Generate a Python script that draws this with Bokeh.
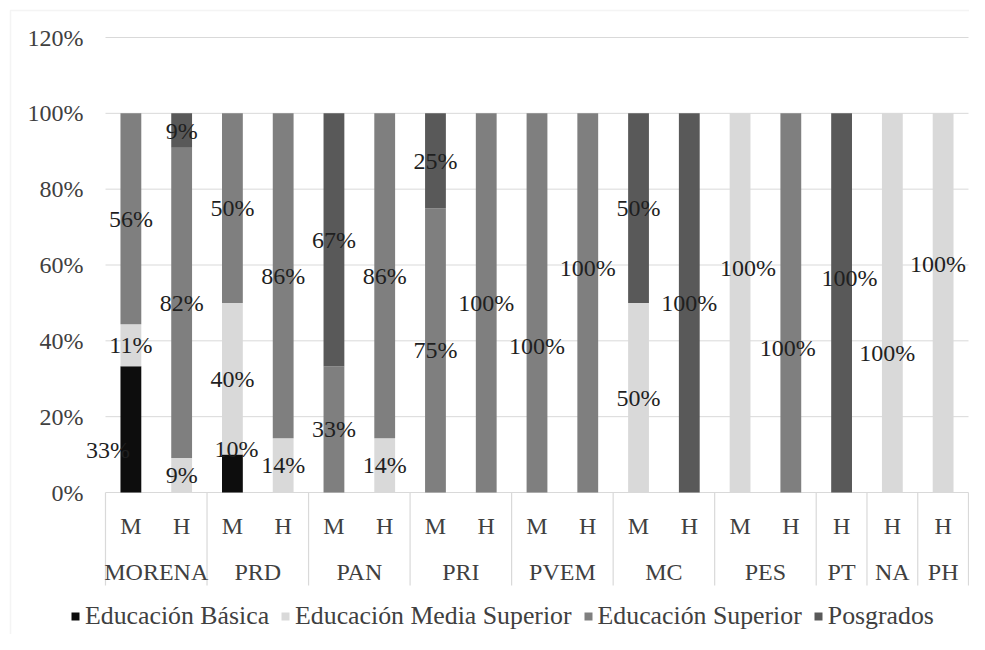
from bokeh.plotting import figure
from bokeh.models import (Range1d, FixedTicker, NumeralTickFormatter,
                          ColumnDataSource, Legend, LegendItem, BoxAnnotation)
from bokeh.core.properties import value
from bokeh.embed import file_html
from bokeh.resources import INLINE

# ---------------- data ----------------
parties = ["MORENA", "MORENA", "PRD", "PRD", "PAN", "PAN", "PRI", "PRI",
           "PVEM", "PVEM", "MC", "MC", "PES", "PES", "PT", "NA", "PH"]
sexes = ["M", "H", "M", "H", "M", "H", "M", "H",
         "M", "H", "M", "H", "M", "H", "H", "H", "H"]
series_names = ["Educación Básica", "Educación Media Superior",
                "Educación Superior", "Posgrados"]
basica = [33.3, 0, 10, 0, 0, 0, 0, 0, 0, 0, 0, 0, 0, 0, 0, 0, 0]
media = [11.1, 9.1, 40, 14.3, 0, 14.3, 0, 0, 0, 0, 50, 0, 100, 0, 0, 100, 100]
superior = [55.6, 81.8, 50, 85.7, 33.3, 85.7, 75, 100, 100, 100, 0, 0, 0, 100, 0, 0, 0]
posgrados = [0, 9.1, 0, 0, 66.7, 0, 25, 0, 0, 0, 50, 100, 0, 0, 100, 0, 0]
y_ticks = [0, 20, 40, 60, 80, 100, 120]

# ---------------- style ----------------
colors = ["#0d0d0d", "#d9d9d9", "#7f7f7f", "#595959"]
FONT = "Liberation Serif"
GRID = "#d9d9d9"
TXT = "#404040"
# pixel nudges for data labels placed away from segment centre: (series, bar) -> (dx, dy)
label_nudge = {(0, 0): (-23, 21), (0, 2): (4, -25), (2, 8): (0, 43), (2, 9): (0, -35),
               (1, 12): (8, -35), (2, 13): (-3, 45), (3, 14): (8, -25),
               (1, 15): (-5, 50), (1, 16): (-5, -39)}

W, H = 969, 634
PLOT_L, PLOT_R = 105, 968       # pixel extent of the category slots
PLOT_T, PLOT_B = 37, 492        # pixel position of 120% and 0%
n = len(parties)
slot = (PLOT_R - PLOT_L) / n
ymax = max(y_ticks) / 100
ppu = (PLOT_B - PLOT_T) / ymax
x_range = Range1d(-PLOT_L / slot, n + (W - PLOT_R) / slot)
y_range = Range1d(-(H - PLOT_B) / ppu, ymax + PLOT_T / ppu)

p = figure(width=W, height=H, x_range=x_range, y_range=y_range,
           output_backend="svg", toolbar_location=None, x_axis_location=None,
           min_border=0, background_fill_color="white",
           border_fill_color="white", outline_line_color=None)

xs = [i + 0.5 for i in range(n)]
keys = ["basica", "media", "superior", "posgrados"]
series = [basica, media, superior, posgrados]

# gridlines across the category slots
gy = [t / 100 for t in y_ticks]
p.segment(x0=[0] * len(gy), x1=[n] * len(gy), y0=gy, y1=gy, line_color=GRID, line_width=1)

src = ColumnDataSource(dict(x=xs, **{k: [v / 100 for v in s] for k, s in zip(keys, series)}))
renderers = p.vbar_stack(keys, x="x", width=0.41, fill_color=colors, line_color=None, source=src)

# y axis (labels sit to the left of the slots)
p.yaxis.ticker = FixedTicker(ticks=gy)
p.yaxis.formatter = NumeralTickFormatter(format="0%")
p.yaxis.axis_line_color = None
p.yaxis.major_tick_line_color = None
p.yaxis.minor_tick_line_color = None
p.yaxis.major_tick_out = 0
p.yaxis.major_tick_in = 0
p.yaxis.major_label_standoff = -83
p.yaxis.major_label_text_font = FONT
p.yaxis.major_label_text_font_size = "24px"
p.yaxis.major_label_text_color = TXT
p.xgrid.grid_line_color = None
p.ygrid.grid_line_color = None

# data labels
lx, ly, lt, ldx, ldy = [], [], [], [], []
for i in range(n):
    bottom = 0.0
    for si, s in enumerate(series):
        v = s[i]
        if v > 0:
            dx, dy = label_nudge.get((si, i), (0, 0))
            lx.append(xs[i]); ly.append((bottom + v / 2) / 100)
            lt.append(f"{round(v)}%"); ldx.append(dx); ldy.append(dy)
        bottom += v
p.text(x="x", y="y", text="t", x_offset="dx", y_offset="dy",
       source=ColumnDataSource(dict(x=lx, y=ly, t=lt, dx=ldx, dy=ldy)),
       text_font=value(FONT), text_font_size="24px", text_color="#1f1f1f",
       text_align="center", text_baseline="middle")

# category axis: two levels with group separators
bounds = [0] + [i for i in range(1, n) if parties[i] != parties[i - 1]] + [n]
sep_len = 93 / ppu
p.segment(x0=bounds, y0=[0] * len(bounds), x1=bounds, y1=[-sep_len] * len(bounds),
          line_color=GRID, line_width=1.2)
p.text(x=xs, y=[-33 / ppu] * n, text=sexes,
       text_font=value(FONT), text_font_size="24px", text_color=TXT,
       text_align="center", text_baseline="middle")
gx = [(bounds[k] + bounds[k + 1]) / 2 for k in range(len(bounds) - 1)]
gnames = [parties[bounds[k]] for k in range(len(bounds) - 1)]
p.text(x=gx, y=[-79 / ppu] * len(gx), text=gnames,
       text_font=value(FONT), text_font_size="24px", text_color=TXT,
       text_align="center", text_baseline="middle")

# legend
legend = Legend(items=[LegendItem(label=nm, renderers=[r]) for nm, r in zip(series_names, renderers)],
                orientation="horizontal", location=(70, 3))
legend.glyph_width = 10
legend.glyph_height = 10
legend.label_standoff = 5
legend.spacing = 11
legend.padding = 0
legend.margin = 0
legend.border_line_color = None
legend.background_fill_alpha = 0
legend.label_text_font = FONT
legend.label_text_font_size = "25.8px"
legend.label_text_color = TXT
p.add_layout(legend)

# chart border: only its left and top edges fall inside the picture
# (screen units here count y upward from the bottom of the plot area)
p.add_layout(BoxAnnotation(left=10, right=W + 50, top=H - 10, bottom=-50,
                           left_units="screen", right_units="screen",
                           top_units="screen", bottom_units="screen",
                           fill_alpha=0, line_color=GRID, line_width=1.5))

open("out.html", "w").write(file_html(p, INLINE))
